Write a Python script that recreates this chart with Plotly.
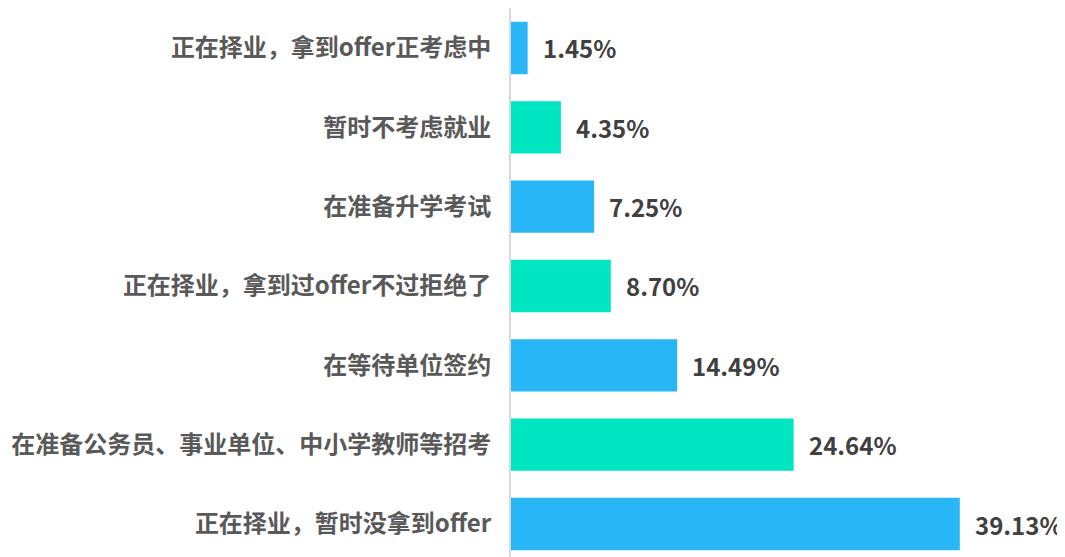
import plotly.graph_objects as go

categories = [
    "正在择业，暂时没拿到offer",
    "在准备公务员、事业单位、中小学教师等招考",
    "在等待单位签约",
    "正在择业，拿到过offer不过拒绝了",
    "在准备升学考试",
    "暂时不考虑就业",
    "正在择业，拿到offer正考虑中",
]
values = [39.13, 24.64, 14.49, 8.70, 7.25, 4.35, 1.45]
labels = ["39.13%", "24.64%", "14.49%", "8.70%", "7.25%", "4.35%", "1.45%"]
colors = ["#29B6F6", "#00E5C2", "#29B6F6", "#00E5C2", "#29B6F6", "#00E5C2", "#29B6F6"]

FONT = "Noto Sans CJK SC"

fig = go.Figure(go.Bar(
    x=values, y=categories, orientation="h",
    marker=dict(color=colors, line=dict(width=0)),
    width=0.66,
    hoverinfo="skip",
))

for c, v, t in zip(categories, values, labels):
    fig.add_annotation(x=v, y=c, text=f"<b>{t}</b>", showarrow=False,
                       xanchor="left", yanchor="middle", xshift=13,
                       font=dict(family=FONT, size=24, color="#404040"))

fig.update_layout(
    width=1057, height=549,
    margin=dict(l=503, r=0, t=0, b=0, autoexpand=False),
    paper_bgcolor="white", plot_bgcolor="white",
    showlegend=False,
    xaxis=dict(range=[0, 48.3], showgrid=False, zeroline=False,
               showticklabels=False, showline=False, fixedrange=True),
    yaxis=dict(type="category", categoryorder="array", categoryarray=categories,
               range=[-0.416, 6.504], showgrid=False, zeroline=False,
               showline=True, linecolor="#D9D9D9", linewidth=2,
               ticks="", ticklabelstandoff=13,
               tickprefix="<b>", ticksuffix="</b>",
               tickfont=dict(family=FONT, size=24, color="#595959")),
)

fig.write_html("out.html")
